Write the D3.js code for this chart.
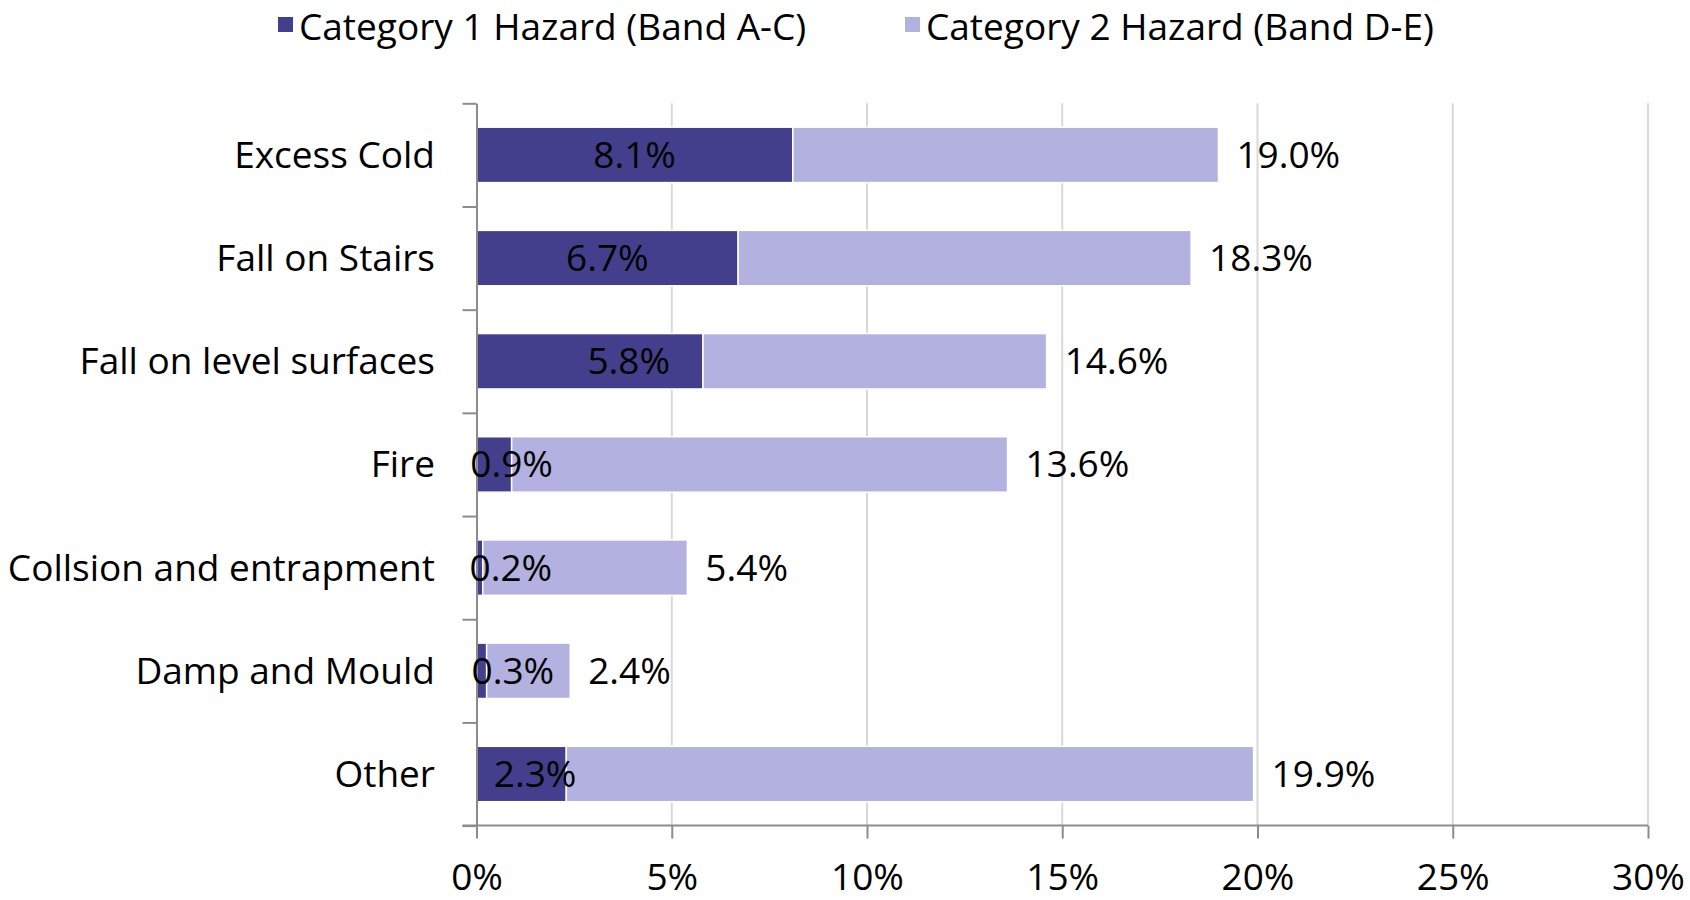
<!DOCTYPE html>
<html>
<head>
<meta charset="utf-8">
<script src="https://cdn.jsdelivr.net/npm/d3@7"></script>
<style>
  body { margin: 0; background: #fff; }
  svg text { font-family: "Open Sans", sans-serif; font-size: 37px; fill: #000; }
</style>
</head>
<body>
<svg id="chart" width="1690" height="900"></svg>
<script>
// hazard categories, top to bottom
const categories = ["Excess Cold", "Fall on Stairs", "Fall on level surfaces", "Fire",
  "Collsion and entrapment", "Damp and Mould", "Other"];
// Category 1 share (%)
const cat1 = [8.1, 6.7, 5.8, 0.9, 0.16, 0.26, 2.3];
// Category 1 + Category 2 share (%)
const total = [19.0, 18.3, 14.6, 13.6, 5.4, 2.4, 19.9];
const seriesNames = ["Category 1 Hazard (Band A-C)", "Category 2 Hazard (Band D-E)"];
const xTicks = [0, 5, 10, 15, 20, 25, 30];

// where the inner (cat 1) labels sit, in % units - placed by hand in the original
const innerLabelAt = [4.05, 3.35, 3.9, 0.9, 0.88, 0.93, 1.5];

const colors = ["#433f8c", "#b3b1df"];

const table = categories.map((c, i) => ({ cat: c, c1: cat1[i], c2: total[i] - cat1[i], total: total[i] }));

const svg = d3.select("#chart");
const plotL = 476.5, plotR = 1648, plotT = 103.3, plotB = 825.6;

const x = d3.scaleLinear().domain([0, 30]).range([plotL, plotR]);
const y = d3.scaleBand().domain(categories).range([plotT, plotB])
  .paddingInner(0.463).paddingOuter(0.2315);

// gridlines
svg.append("g")
  .selectAll("line")
  .data(xTicks.filter(d => d > 0))
  .enter().append("line")
    .attr("x1", d => x(d)).attr("x2", d => x(d))
    .attr("y1", plotT).attr("y2", plotB)
    .attr("stroke", "#d9d9d9")
    .attr("stroke-width", 2);

// stacked bars
const stack = d3.stack().keys(["c1", "c2"]);
const layers = stack(table);

svg.append("g")
  .selectAll("g")
  .data(layers)
  .enter().append("g")
    .attr("fill", (d, i) => colors[i])
  .selectAll("rect")
  .data(d => d)
  .enter().append("rect")
    .attr("x", d => x(d[0]))
    .attr("y", d => y(d.data.cat))
    .attr("width", d => x(d[1]) - x(d[0]))
    .attr("height", y.bandwidth())
    .attr("stroke", "#fff")
    .attr("stroke-width", 1.5);

// y axis (ticks at band boundaries)
const yb = d3.scaleLinear().domain([0, categories.length]).range([plotT, plotB]);
const yAxis = svg.append("g")
  .attr("transform", "translate(" + plotL + ",0)")
  .call(d3.axisLeft(yb).tickValues(d3.range(categories.length + 1)).tickFormat("").tickSize(14).tickSizeOuter(0));
yAxis.selectAll("line, path").attr("stroke", "#8c8c8c").attr("stroke-width", 2);

// category labels
svg.append("g")
  .selectAll("text")
  .data(categories)
  .enter().append("text")
    .attr("x", 435)
    .attr("y", d => y(d) + y.bandwidth() / 2)
    .attr("dy", "0.35em")
    .attr("text-anchor", "end")
    .text(d => d);

// x axis
const xAxis = svg.append("g")
  .attr("transform", "translate(0," + plotB + ")")
  .call(d3.axisBottom(x).tickValues(xTicks).tickFormat(d => d + "%").tickSize(13).tickSizeOuter(0).tickPadding(25));
xAxis.select(".domain").attr("d", "M" + (plotL - 14) + ",0H" + plotR);
xAxis.selectAll("line, path").attr("stroke", "#8c8c8c").attr("stroke-width", 2);
xAxis.attr("font-family", null).attr("font-size", null);
xAxis.selectAll("text").attr("fill", "#000");

// inner labels (cat 1)
svg.append("g")
  .selectAll("text")
  .data(table)
  .enter().append("text")
    .attr("x", (d, i) => x(innerLabelAt[i]))
    .attr("y", d => y(d.cat) + y.bandwidth() / 2)
    .attr("dy", "0.35em")
    .attr("text-anchor", "middle")
    .text(d => d.c1.toFixed(1) + "%");

// total labels
svg.append("g")
  .selectAll("text")
  .data(table)
  .enter().append("text")
    .attr("x", d => x(d.total) + 18)
    .attr("y", d => y(d.cat) + y.bandwidth() / 2)
    .attr("dy", "0.35em")
    .text(d => d.total.toFixed(1) + "%");

// legend
const legendX = [278, 905];
const legend = svg.append("g")
  .selectAll("g")
  .data(seriesNames)
  .enter().append("g")
    .attr("transform", (d, i) => "translate(" + legendX[i] + ",0)");
legend.append("rect")
  .attr("x", 0).attr("y", 17)
  .attr("width", 15).attr("height", 15)
  .attr("fill", (d, i) => colors[i]);
legend.append("text")
  .attr("x", 21).attr("y", 40)
  .text(d => d);
</script>
</body>
</html>
